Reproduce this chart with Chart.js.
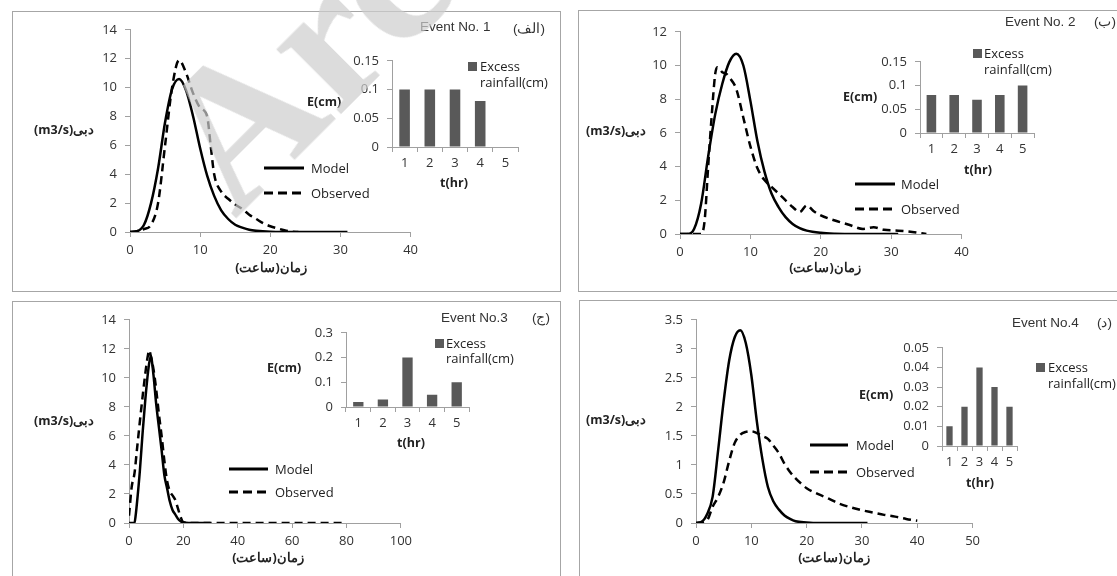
<!DOCTYPE html>
<html>
<head>
<meta charset="utf-8">
<script src="https://cdn.jsdelivr.net/npm/chart.js@4.4.1/dist/chart.umd.min.js"></script>
<style>
  body { margin: 0; background: #fff; }
  #page { position: relative; width: 1117px; height: 576px; overflow: hidden; background: #fff; }
  .panel { position: absolute; border: 1px solid #a6a6a6; box-sizing: border-box; }
  .box { position: absolute; }
  .t { position: absolute; white-space: nowrap; font-family: 'Open Sans', sans-serif; font-size: 13px; color: #222; line-height: 1; }
  .b { font-weight: bold; font-size: 12.5px; }
  .ev { font-family: 'Liberation Sans', Arial, sans-serif; font-size: 13.5px; color: #333; }
  .rtl { direction: rtl; unicode-bidi: embed; }
  .sw { position: absolute; width: 9px; height: 9px; background: #595959; }
  #wm { position: absolute; left: 117px; top: 102px; font-family: 'Liberation Serif', serif; font-weight: bold; font-size: 200px; color: rgba(205,205,205,0.7); transform-origin: 0 0; transform: rotate(-45deg); white-space: nowrap; line-height: 1; }
</style>
</head>
<body>
<div id="page">
  <div class="panel" style="left:12px;top:11px;width:549px;height:281px"></div>
  <div class="panel" style="left:578px;top:10px;width:545px;height:282px"></div>
  <div class="panel" style="left:12px;top:301px;width:549px;height:290px"></div>
  <div class="panel" style="left:579px;top:300px;width:545px;height:290px"></div>
</div>
<script>
// hydrograph data: time (hr) and discharge (m3/s)
const tModel1 = [0, 1, 2, 3, 4, 5, 6, 7, 8, 9, 10, 11, 12, 13, 14, 15, 16, 17, 18, 20, 24, 31];
const qModel1 = [0, 0.05, 0.5, 2.0, 4.4, 7.6, 9.9, 10.6, 9.8, 8.0, 5.8, 3.9, 2.5, 1.5, 0.9, 0.5, 0.3, 0.15, 0.08, 0.02, 0, 0];
const tObs1 = [0, 1, 2, 3, 4, 5, 6, 7, 8, 9, 10, 11, 11.5, 12, 13, 14, 15, 16, 17, 18, 19, 20, 21, 22, 23, 24];
const qObs1 = [0, 0.05, 0.2, 0.5, 2.0, 6.0, 10.0, 11.9, 11.0, 9.6, 8.6, 8.0, 6.0, 4.0, 2.8, 2.3, 1.9, 1.6, 1.2, 0.9, 0.6, 0.4, 0.25, 0.12, 0.03, 0];

const tModel2 = [0, 1, 2, 3, 4, 5, 6, 7, 8, 9, 10, 11, 12, 13, 14, 15, 16, 17, 18, 20, 22, 25, 31];
const qModel2 = [0, 0, 0.3, 1.8, 4.6, 7.1, 8.9, 10.2, 10.7, 10.0, 7.9, 5.5, 3.7, 2.4, 1.6, 1.0, 0.6, 0.35, 0.2, 0.07, 0.02, 0, 0];
const tObs2 = [0, 3, 3.5, 4, 4.5, 5, 5.3, 6, 6.6, 7, 8, 9, 10, 11, 12, 13, 14, 15, 16, 17, 18, 19, 20, 22, 24, 26, 27.5, 29, 31, 33, 35];
const qObs2 = [0, 0, 0.8, 4.0, 7.0, 9.5, 9.9, 9.6, 9.5, 9.3, 8.6, 6.9, 5.2, 3.9, 3.2, 2.8, 2.4, 2.0, 1.6, 1.3, 1.7, 1.35, 1.1, 0.8, 0.55, 0.3, 0.4, 0.25, 0.2, 0.12, 0];

const tModel3 = [0, 2, 2.5, 3, 4, 5, 6, 7, 8, 9, 10, 11, 12, 13, 14, 15, 16, 17, 18, 19, 20, 22, 30];
const qModel3 = [0, 0, 0.6, 1.5, 3.6, 6.2, 8.5, 10.4, 11.5, 10.2, 8.2, 6.6, 5.0, 3.3, 2.4, 1.5, 0.9, 0.6, 0.3, 0.12, 0.03, 0, 0];
const tObs3 = [0, 1, 2, 3, 4, 5, 6, 7, 7.5, 8, 9, 10, 11, 12, 13, 14, 15, 16, 17, 18, 19, 20, 22, 40, 60, 80];
const qObs3 = [0.5, 2.5, 3.4, 5.2, 7.0, 8.7, 10.3, 11.6, 11.9, 11.5, 10.6, 9.2, 7.5, 6.0, 4.3, 2.9, 2.2, 1.9, 1.6, 1.0, 0.4, 0.05, 0, 0, 0, 0];

const tModel4 = [0, 1, 2, 3, 4, 5, 6, 7, 8, 9, 10, 11, 12, 13, 14, 15, 16, 17, 18, 20, 22, 31];
const qModel4 = [0, 0.02, 0.15, 0.45, 1.25, 2.1, 2.8, 3.2, 3.32, 3.1, 2.55, 1.75, 1.1, 0.62, 0.37, 0.23, 0.13, 0.07, 0.03, 0.01, 0, 0];
const tObs4 = [0, 2, 3, 4, 5, 6, 7, 8, 9, 10, 11, 12, 13, 14, 15, 16, 17, 18, 19, 20, 22, 24, 26, 28, 30, 32, 34, 36, 38, 40];
const qObs4 = [0, 0.05, 0.28, 0.45, 0.7, 1.07, 1.38, 1.52, 1.57, 1.58, 1.55, 1.5, 1.45, 1.33, 1.2, 1.02, 0.88, 0.77, 0.68, 0.6, 0.5, 0.42, 0.33, 0.27, 0.22, 0.18, 0.14, 0.11, 0.07, 0.04];

// excess rainfall (cm) per hour
const hours = ['1', '2', '3', '4', '5'];
const excess1 = [0.1, 0.1, 0.1, 0.08, null];
const excess2 = [0.08, 0.08, 0.07, 0.08, 0.1];
const excess3 = [0.02, 0.03, 0.2, 0.05, 0.1];
const excess4 = [0.01, 0.02, 0.04, 0.03, 0.02];

const page = document.getElementById('page');
const tickFont = { family: "'Open Sans', sans-serif", size: 13 };
const axisGray = '#a0a0a0';
const plain = v => String(+Number(v).toFixed(4));   // 0.1 not 0.10, 3 not 3.0

function pts(t, q) {
  return t.map((x, i) => ({ x: x, y: q[i] }));
}

function holder(left, top, w, h) {
  const d = document.createElement('div');
  d.className = 'box';
  d.style.left = left + 'px';
  d.style.top = top + 'px';
  d.style.width = w + 'px';
  d.style.height = h + 'px';
  const c = document.createElement('canvas');
  d.appendChild(c);
  page.appendChild(d);
  return c;
}

function axisOpts(min, max, step, fitW, fitH) {
  return {
    type: 'linear', min: min, max: max,
    ticks: { stepSize: step, font: tickFont, color: '#333', padding: 5, callback: plain },
    grid: { drawOnChartArea: false, drawTicks: true, tickLength: 5, color: axisGray },
    border: { color: axisGray, width: 1 },
    afterFit: s => { if (fitW) s.width = fitW; if (fitH) s.height = fitH; }
  };
}

// area = pixel edges of the plot area
function lineChart(area, xMax, xStep, yMax, yStep, model, observed) {
  const ctx = holder(area.l - 60, area.t - 12, area.r - area.l + 72, area.b - area.t + 52);
  const x = axisOpts(0, xMax, xStep, 0, 40);
  const y = axisOpts(0, yMax, yStep, 60, 0);
  y.ticks.padding = 8;
  new Chart(ctx, {
    type: 'line',
    data: {
      datasets: [
        { label: 'Model', data: model, borderColor: '#000', borderWidth: 2.5, pointRadius: 0, cubicInterpolationMode: 'monotone', fill: false },
        { label: 'Observed', data: observed, borderColor: '#000', borderWidth: 2.5, borderDash: [8, 5], pointRadius: 0, cubicInterpolationMode: 'monotone', fill: false }
      ]
    },
    options: {
      responsive: true, maintainAspectRatio: false, animation: false,
      layout: { padding: { left: 0, right: 12, top: 12, bottom: 0 } },
      plugins: { legend: { display: false }, tooltip: { enabled: false } },
      scales: { x: x, y: y }
    }
  });
}

function barChart(area, values, yMax, yStep) {
  const ctx = holder(area.l - 45, area.t - 10, area.r - area.l + 55, area.b - area.t + 35);
  const y = axisOpts(0, yMax, yStep, 45, 0);
  y.ticks.padding = 8;
  new Chart(ctx, {
    type: 'bar',
    data: {
      labels: hours,
      datasets: [{ label: 'Excess rainfall(cm)', data: values, backgroundColor: '#595959', barPercentage: 0.42, categoryPercentage: 1 }]
    },
    options: {
      responsive: true, maintainAspectRatio: false, animation: false,
      layout: { padding: { left: 0, right: 10, top: 10, bottom: 0 } },
      plugins: { legend: { display: false }, tooltip: { enabled: false } },
      scales: {
        x: {
          ticks: { font: tickFont, color: '#333', padding: 3 },
          grid: { drawOnChartArea: false, drawTicks: true, tickLength: 5, color: axisGray, offset: true },
          border: { color: axisGray },
          afterFit: s => { s.height = 25; }
        },
        y: y
      }
    }
  });
}

function txt(s, x, y, cls, align) {
  const d = document.createElement('div');
  d.className = 't ' + (cls || '');
  d.textContent = s;
  d.style.left = x + 'px';
  d.style.top = y + 'px';
  const tx = align === 'c' ? '-50%' : (align === 'r' ? '-100%' : '0');
  d.style.transform = 'translate(' + tx + ',-50%)';
  page.appendChild(d);
}

function legendLine(x1, x2, y, dashed) {
  const ns = 'http://www.w3.org/2000/svg';
  const svg = document.createElementNS(ns, 'svg');
  svg.setAttribute('width', x2 - x1);
  svg.setAttribute('height', 6);
  svg.style.position = 'absolute';
  svg.style.left = x1 + 'px';
  svg.style.top = (y - 3) + 'px';
  const ln = document.createElementNS(ns, 'line');
  ln.setAttribute('x1', 0); ln.setAttribute('x2', x2 - x1);
  ln.setAttribute('y1', 3); ln.setAttribute('y2', 3);
  ln.setAttribute('stroke', '#000');
  ln.setAttribute('stroke-width', 3);
  if (dashed) ln.setAttribute('stroke-dasharray', '9 5');
  svg.appendChild(ln);
  page.appendChild(svg);
}

function swatch(x, y) {
  const d = document.createElement('div');
  d.className = 'sw';
  d.style.left = x + 'px';
  d.style.top = (y - 4.5) + 'px';
  page.appendChild(d);
}

// panel 1
lineChart({ l: 130, r: 411, t: 26, b: 232 }, 40, 10, 14, 2, pts(tModel1, qModel1), pts(tObs1, qObs1));
barChart({ l: 392, r: 518, t: 55, b: 147 }, excess1, 0.15, 0.05);
// panel 2
lineChart({ l: 680, r: 962, t: 28, b: 234 }, 40, 10, 12, 2, pts(tModel2, qModel2), pts(tObs2, qObs2));
barChart({ l: 920, r: 1034, t: 56, b: 133 }, excess2, 0.15, 0.05);
// panel 3
lineChart({ l: 129, r: 405, t: 316, b: 523 }, 100, 20, 14, 2, pts(tModel3, qModel3), pts(tObs3, qObs3));
barChart({ l: 346, r: 469, t: 327, b: 407 }, excess3, 0.3, 0.1);
// panel 4
lineChart({ l: 696, r: 973, t: 316, b: 523 }, 50, 10, 3.5, 0.5, pts(tModel4, qModel4), pts(tObs4, qObs4));
barChart({ l: 942, r: 1017, t: 342, b: 446 }, excess4, 0.05, 0.01);

// texts and legends
const panels = [
  { ev: 'Event No. 1', evx: 420, evy: 27, tag: '(الف)', tagx: 545, tagy: 29, ex: 307, ey: 102, thx: 454, thy: 183,
    yx: 34, yy: 130, xx: 271, xy: 268, lx1: 264, lx2: 304, ly: 168, ly2: 193, ltx: 311, sx: 468, sy: 66, stx: 480, sty2: 82 },
  { ev: 'Event No. 2', evx: 1005, evy: 22, tag: '(ب)', tagx: 1116, tagy: 22, ex: 843, ey: 97, thx: 978, thy: 170,
    yx: 586, yy: 131, xx: 825, xy: 268, lx1: 855, lx2: 895, ly: 184, ly2: 209, ltx: 901, sx: 973, sy: 53, stx: 984, sty2: 69 },
  { ev: 'Event No.3', evx: 441, evy: 318, tag: '(ج)', tagx: 550, tagy: 318, ex: 267, ey: 368, thx: 411, thy: 443,
    yx: 34, yy: 421, xx: 268, xy: 558, lx1: 229, lx2: 268, ly: 469, ly2: 492, ltx: 275, sx: 435, sy: 343, stx: 446, sty2: 358 },
  { ev: 'Event No.4', evx: 1012, evy: 323, tag: '(د)', tagx: 1112, tagy: 323, ex: 859, ey: 395, thx: 980, thy: 483,
    yx: 586, yy: 420, xx: 834, xy: 558, lx1: 810, lx2: 848, ly: 445, ly2: 472, ltx: 856, sx: 1036, sy: 367, stx: 1048, sty2: 383 }
];

panels.forEach(p => {
  txt(p.ev, p.evx, p.evy, 'ev', 'l');
  txt(p.tag, p.tagx, p.tagy, 'ev rtl', 'r');
  txt('E(cm)', p.ex, p.ey, 'b', 'l');
  txt('t(hr)', p.thx, p.thy, 'b', 'c');
  txt('(m3/s)دبی', p.yx, p.yy, 'b', 'l');
  txt('زمان(ساعت)', p.xx, p.xy, 'b rtl', 'c');
  legendLine(p.lx1, p.lx2, p.ly, false);
  legendLine(p.lx1, p.lx2, p.ly2, true);
  txt('Model', p.ltx, p.ly, '', 'l');
  txt('Observed', p.ltx, p.ly2, '', 'l');
  swatch(p.sx, p.sy);
  txt('Excess', p.stx, p.sy, '', 'l');
  txt('rainfall(cm)', p.stx, p.sty2, '', 'l');
});

// faint watermark across the first panel
const wm = document.createElement('div');
wm.id = 'wm';
wm.textContent = 'Arc';
page.appendChild(wm);
</script>
</body>
</html>
